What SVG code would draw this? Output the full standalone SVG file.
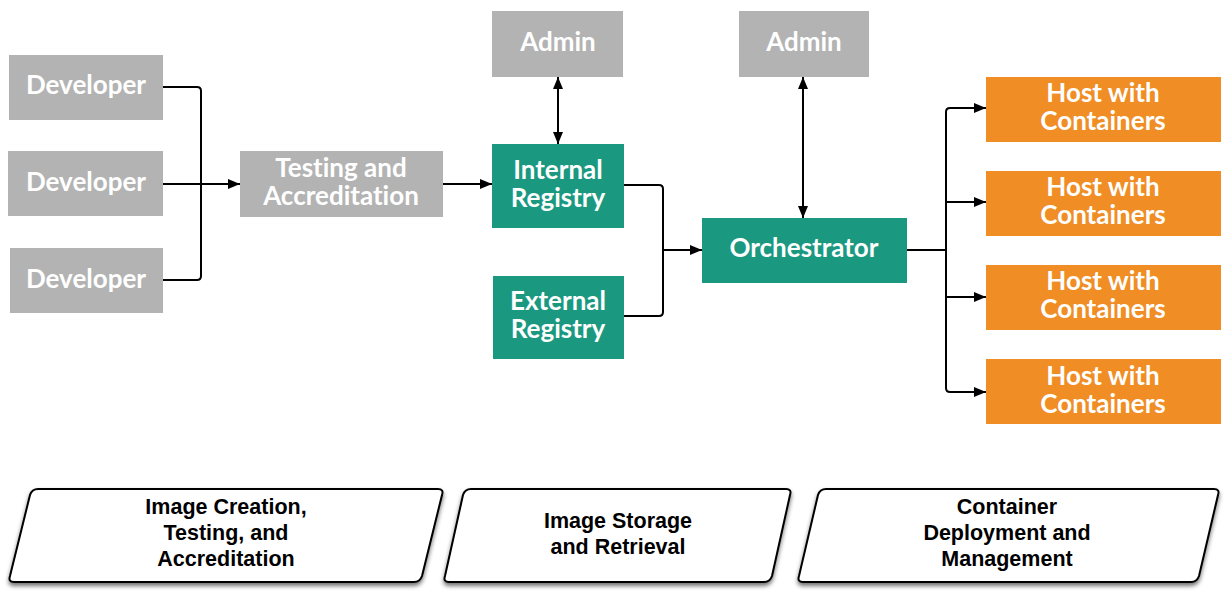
<svg xmlns="http://www.w3.org/2000/svg" width="1225" height="593" viewBox="0 0 1225 593">
<defs>
<marker id="ah" viewBox="0 0 12 10" refX="12" refY="5" markerWidth="12" markerHeight="10" markerUnits="userSpaceOnUse" orient="auto-start-reverse">
<path d="M0,0 L12,5 L0,10 Z" fill="#000"/>
</marker>
<filter id="sh" x="-5%" y="-10%" width="110%" height="130%">
<feDropShadow dx="0" dy="3" stdDeviation="2" flood-color="#000" flood-opacity="0.55"/>
</filter>
<style>
.g{fill:#b3b3b3}
.t{fill:#1b9880}
.o{fill:#f08d24}
.nt{font-family:Lato,"Open Sans",sans-serif;font-weight:bold;font-size:26px;fill:#fff;text-anchor:middle;font-variant-ligatures:none}
.c{fill:none;stroke:#000;stroke-width:2}
.ph{fill:#fff;stroke:#000;stroke-width:2;stroke-linejoin:round;filter:url(#sh)}
.pt{font-family:"Liberation Sans",Arial,sans-serif;font-weight:bold;font-size:21.5px;fill:#000;text-anchor:middle}
</style>
</defs>
<rect width="1225" height="593" fill="#fff"/>
<g id="connectors">
<path class="c" d="M163,87 H197 Q201,87 201,91 V276 Q201,280 197,280 H163"/>
<path class="c" d="M163,184 H240" marker-end="url(#ah)"/>
<path class="c" d="M443,184 H492" marker-end="url(#ah)"/>
<path class="c" d="M558,77 V144" marker-start="url(#ah)" marker-end="url(#ah)"/>
<path class="c" d="M624,185 H659 Q663,185 663,189 V312 Q663,316 659,316 H624"/>
<path class="c" d="M663,250 H702" marker-end="url(#ah)"/>
<path class="c" d="M803,77 V218" marker-start="url(#ah)" marker-end="url(#ah)"/>
<path class="c" d="M907,250 H946"/>
<path class="c" d="M986,108 H950 Q946,108 946,112 V388 Q946,392 950,392 H986" marker-start="url(#ah)" marker-end="url(#ah)"/>
<path class="c" d="M946,202 H986" marker-end="url(#ah)"/>
<path class="c" d="M946,297 H986" marker-end="url(#ah)"/>
</g>
<g id="dev1"><rect class="g" x="9" y="55" width="154" height="65"/><text class="nt" x="86" y="94">Developer</text></g>
<g id="dev2"><rect class="g" x="8" y="151" width="155" height="65"/><text class="nt" x="86" y="191">Developer</text></g>
<g id="dev3"><rect class="g" x="10" y="248" width="153" height="65"/><text class="nt" x="86" y="288">Developer</text></g>
<g id="testing"><rect class="g" x="240" y="151" width="203" height="66"/><text class="nt" x="341" y="177">Testing and</text><text class="nt" x="341" y="205">Accreditation</text></g>
<g id="admin1"><rect class="g" x="492" y="11" width="131" height="66"/><text class="nt" x="558" y="51">Admin</text></g>
<g id="internal"><rect class="t" x="492" y="144" width="132" height="84"/><text class="nt" x="558" y="179">Internal</text><text class="nt" x="558" y="207">Registry</text></g>
<g id="external"><rect class="t" x="493" y="276" width="131" height="83"/><text class="nt" x="558" y="310">External</text><text class="nt" x="558" y="338">Registry</text></g>
<g id="admin2"><rect class="g" x="739" y="11" width="130" height="66"/><text class="nt" x="804" y="51">Admin</text></g>
<g id="orchestrator"><rect class="t" x="702" y="218" width="205" height="65"/><text class="nt" x="804" y="257">Orchestrator</text></g>
<g id="host1"><rect class="o" x="986" y="77" width="235" height="65"/><text class="nt" x="1103" y="102">Host with</text><text class="nt" x="1103" y="130">Containers</text></g>
<g id="host2"><rect class="o" x="986" y="171" width="235" height="65"/><text class="nt" x="1103" y="196">Host with</text><text class="nt" x="1103" y="224">Containers</text></g>
<g id="host3"><rect class="o" x="986" y="265" width="235" height="65"/><text class="nt" x="1103" y="290">Host with</text><text class="nt" x="1103" y="318">Containers</text></g>
<g id="host4"><rect class="o" x="986" y="359" width="235" height="65"/><text class="nt" x="1103" y="385">Host with</text><text class="nt" x="1103" y="413">Containers</text></g>
<g id="phase1"><path class="ph" d="M38,489 H438 Q444,489 442,495 L422,576 Q420,582 414,582 H14 Q8,582 10,576 L30,495 Q32,489 38,489 Z"/><text class="pt" x="226" y="514">Image Creation,</text><text class="pt" x="226" y="540">Testing, and</text><text class="pt" x="226" y="566">Accreditation</text></g>
<g id="phase2"><path class="ph" d="M471,489 H786 Q792,489 790,495 L772,576 Q770,582 764,582 H449 Q443,582 445,576 L463,495 Q465,489 471,489 Z"/><text class="pt" x="618" y="528">Image Storage</text><text class="pt" x="618" y="554">and Retrieval</text></g>
<g id="phase3"><path class="ph" d="M826,489 H1214 Q1220,489 1218,495 L1199,576 Q1197,582 1191,582 H803 Q797,582 799,576 L818,495 Q820,489 826,489 Z"/><text class="pt" x="1007" y="514">Container</text><text class="pt" x="1007" y="540">Deployment and</text><text class="pt" x="1007" y="566">Management</text></g>
</svg>
